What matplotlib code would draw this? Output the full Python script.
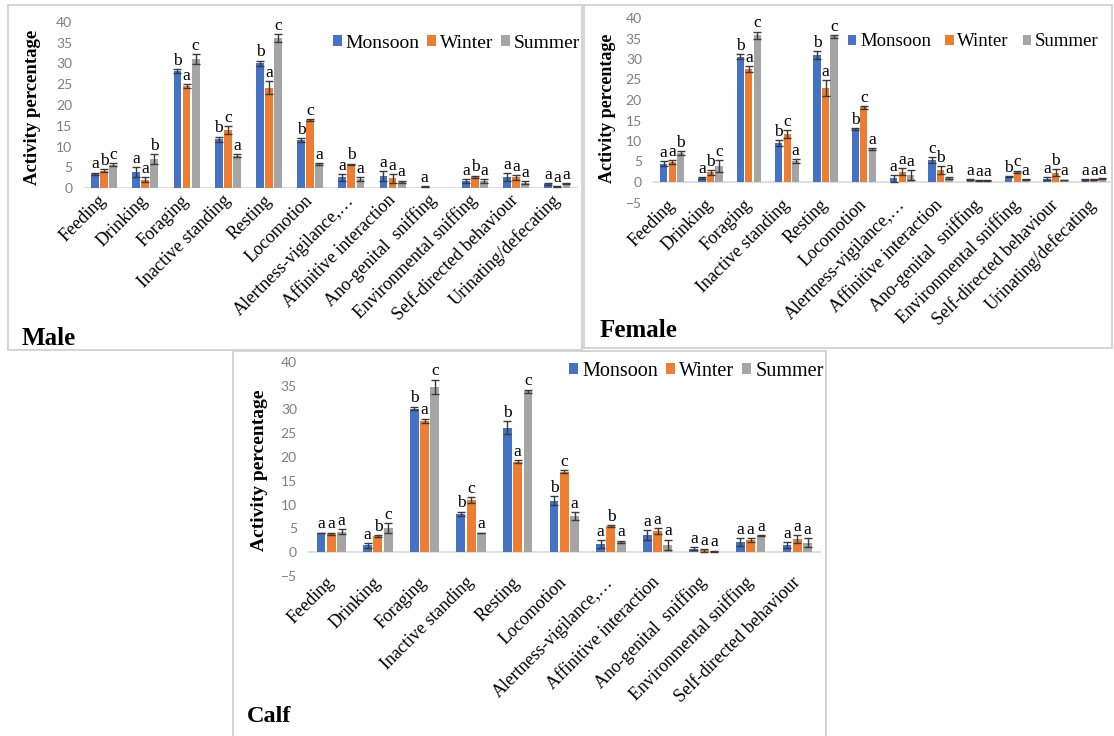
import numpy as np
import matplotlib
matplotlib.use("Agg")
import matplotlib.pyplot as plt
from matplotlib.patches import Rectangle, Patch

# ---------------------------------------------------------------- data
seasons = ["Monsoon", "Winter", "Summer"]
season_colors = ["#4472C4", "#ED7D31", "#A5A5A5"]

behaviours = ["Feeding", "Drinking", "Foraging", "Inactive standing", "Resting",
              "Locomotion", "Alertness-vigilance,\u2026", "Affinitive interaction",
              "Ano-genital  sniffing", "Environmental sniffing",
              "Self-directed behaviour", "Urinating/defecating"]
calf_behaviours = behaviours[:11]

# Male
male_monsoon = [3.4, 3.9, 28.2, 11.8, 30.0, 11.6, 2.6, 2.9, 0.3, 1.7, 2.6, 0.9]
male_winter = [4.2, 2.0, 24.6, 14.0, 24.2, 16.4, 5.7, 2.3, 0.0, 2.7, 2.6, 0.4]
male_summer = [5.6, 7.0, 31.0, 7.8, 36.2, 5.8, 2.1, 1.5, 0.0, 1.7, 1.3, 1.1]
male_monsoon_err = [0.3, 1.2, 0.5, 0.6, 0.7, 0.4, 0.8, 1.2, 0.1, 0.5, 0.9, 0.2]
male_winter_err = [0.4, 0.6, 0.4, 0.9, 1.5, 0.3, 0.2, 1.0, 0.0, 0.3, 0.6, 0.1]
male_summer_err = [0.4, 1.1, 1.2, 0.4, 0.9, 0.3, 0.5, 0.3, 0.0, 0.5, 0.4, 0.1]
male_monsoon_sig = ["a", "a", "b", "b", "b", "b", "a", "a", "a", "a", "a", "a"]
male_winter_sig = ["b", "a", "a", "c", "a", "c", "b", "a", "", "b", "a", "a"]
male_summer_sig = ["c", "b", "c", "a", "c", "a", "a", "a", "", "a", "a", "a"]

# Female
female_monsoon = [4.5, 1.0, 30.6, 9.6, 31.0, 13.0, 0.9, 5.4, 0.65, 1.3, 0.8, 0.7]
female_winter = [4.9, 2.4, 27.5, 11.7, 22.9, 18.2, 2.5, 2.9, 0.4, 2.5, 2.3, 0.65]
female_summer = [7.1, 3.9, 35.8, 5.1, 35.5, 8.0, 1.7, 1.0, 0.3, 0.65, 0.5, 0.9]
female_monsoon_err = [0.6, 0.2, 0.6, 0.7, 1.0, 0.2, 0.8, 0.7, 0.1, 0.1, 0.3, 0.1]
female_winter_err = [0.4, 0.6, 0.7, 0.9, 2.0, 0.4, 0.9, 1.0, 0.1, 0.3, 0.9, 0.1]
female_summer_err = [0.5, 1.5, 0.9, 0.5, 0.3, 0.2, 1.3, 0.2, 0.1, 0.1, 0.1, 0.1]
female_monsoon_sig = ["a", "a", "b", "b", "b", "b", "a", "c", "a", "b", "a", "a"]
female_winter_sig = ["a", "b", "a", "c", "a", "c", "a", "b", "a", "c", "b", "a"]
female_summer_sig = ["b", "c", "c", "a", "c", "a", "a", "a", "a", "a", "a", "a"]

# Calf
calf_monsoon = [4.0, 1.4, 30.2, 8.0, 26.2, 10.8, 1.7, 3.6, 0.7, 2.1, 1.5]
calf_winter = [3.8, 3.4, 27.6, 11.0, 19.0, 16.9, 5.5, 4.4, 0.35, 2.5, 2.7]
calf_summer = [4.3, 5.0, 34.8, 4.0, 33.8, 7.6, 2.2, 1.5, 0.2, 3.4, 2.0]
calf_monsoon_err = [0.1, 0.5, 0.4, 0.5, 1.4, 1.0, 0.8, 1.0, 0.3, 0.9, 0.6]
calf_winter_err = [0.3, 0.2, 0.5, 0.6, 0.3, 0.3, 0.2, 0.6, 0.3, 0.4, 0.8]
calf_summer_err = [0.5, 1.1, 1.5, 0.1, 0.4, 0.8, 0.2, 1.1, 0.1, 0.1, 1.0]
calf_monsoon_sig = ["a", "a", "b", "b", "b", "b", "a", "a", "a", "a", "a"]
calf_winter_sig = ["a", "b", "a", "c", "a", "c", "b", "a", "a", "a", "a"]
calf_summer_sig = ["a", "c", "c", "a", "c", "a", "a", "a", "a", "a", "a"]

# ---------------------------------------------------------------- style
W, H = 1114, 736
SERIF = "Liberation Serif"
SANS = "Lato"
TICK_GREY = "#7f7f7f"
ERR_COLOR = "#3a3a3a"

fig = plt.figure(figsize=(W / 100, H / 100), dpi=100)
fig.patch.set_facecolor("white")


def px_axes(x0, x1, ytop, ybot):
    """Axes placed by pixel edges (y measured from the top of the figure)."""
    return fig.add_axes([x0 / W, 1 - ybot / H, (x1 - x0) / W, (ybot - ytop) / H])


def px_box(x0, y0, x1, y1):
    fig.add_artist(Rectangle((x0 / W, 1 - y1 / H), (x1 - x0) / W, (y1 - y0) / H,
                             transform=fig.transFigure, fill=False,
                             edgecolor="#d4d4d4", linewidth=1.4))


def draw_panel(ax, cats, series, errors, letters, ymin, label_pad):
    n = len(cats)
    x = np.arange(n)
    width = 0.19
    offsets = [-0.22, 0.0, 0.22]
    for vals, errs, sigs, off, color in zip(series, errors, letters, offsets, season_colors):
        vals = np.asarray(vals, float)
        errs = np.asarray(errs, float)
        xs = x + off
        ax.bar(xs, vals, width=width, color=color, zorder=2)
        mask = errs > 0
        ax.errorbar(xs[mask], vals[mask], yerr=errs[mask], fmt="none",
                    ecolor=ERR_COLOR, elinewidth=1.0, capsize=2.6,
                    capthick=1.0, zorder=3)
        for xi, v, e, s in zip(xs, vals, errs, sigs):
            if s:
                ax.annotate(s, (xi, v + e), xytext=(0, 3), textcoords="offset points",
                            ha="center", va="baseline", fontsize=12.5,
                            family=SERIF, color="black", zorder=4)
    ax.set_xlim(-0.5, n - 0.5)
    ax.set_ylim(ymin, 40)
    ax.set_yticks(np.arange(ymin, 41, 5))
    ax.axhline(0, color="#d9d9d9", linewidth=1.2, zorder=1)
    for sp in ax.spines.values():
        sp.set_visible(False)
    ax.set_xticks(x)
    ax.set_xticklabels(cats, rotation=45, ha="right", va="center",
                       rotation_mode="anchor", fontsize=13, family=SERIF)
    ax.tick_params(axis="x", length=0, pad=label_pad)
    ax.tick_params(axis="y", length=0, pad=8, labelcolor=TICK_GREY, labelsize=10)
    for lab in ax.get_yticklabels():
        lab.set_family(SANS)
    ax.patch.set_alpha(0)


def add_legend(ax, x_left, y_mid, size, spacing):
    handles = [Patch(facecolor=c, edgecolor="none") for c in season_colors]
    ax.legend(handles, seasons, loc="center left",
              bbox_to_anchor=(x_left / W, 1 - y_mid / H),
              bbox_transform=fig.transFigure, ncol=3, frameon=False,
              prop={"family": SERIF, "size": size}, handlelength=0.45,
              handleheight=0.45, handletextpad=0.2, columnspacing=spacing,
              borderpad=0, borderaxespad=0)


# ---------------------------------------------------------------- panel frames
px_box(8, 5, 582, 350)
px_box(584, 5, 1112, 348)
px_box(233, 351, 826, 740)

# ---------------------------------------------------------------- Male
ax_m = px_axes(83.5, 578, 22, 188)
draw_panel(ax_m, behaviours,
           [male_monsoon, male_winter, male_summer],
           [male_monsoon_err, male_winter_err, male_summer_err],
           [male_monsoon_sig, male_winter_sig, male_summer_sig], 0, 7)
add_legend(ax_m, 333, 43, 14, 0.4)
fig.text(33 / W, 1 - 107 / H, "Activity percentage", rotation=90, ha="center",
         va="center", fontsize=13.5, fontweight="bold", family=SERIF)
fig.text(22 / W, 1 - 345 / H, "Male", fontsize=18, fontweight="bold",
         family=SERIF, va="baseline")

# ---------------------------------------------------------------- Female
ax_f = px_axes(653, 1113, 18, 202.5)
draw_panel(ax_f, behaviours,
           [female_monsoon, female_winter, female_summer],
           [female_monsoon_err, female_winter_err, female_summer_err],
           [female_monsoon_sig, female_winter_sig, female_summer_sig], -5, 0)
add_legend(ax_f, 848, 42, 13.5, 0.75)
fig.text(607 / W, 1 - 108 / H, "Activity percentage", rotation=90, ha="center",
         va="center", fontsize=13, fontweight="bold", family=SERIF)
fig.text(600 / W, 1 - 337 / H, "Female", fontsize=18, fontweight="bold",
         family=SERIF, va="baseline")

# ---------------------------------------------------------------- Calf
ax_c = px_axes(308, 820.6, 362, 575.75)
draw_panel(ax_c, calf_behaviours,
           [calf_monsoon, calf_winter, calf_summer],
           [calf_monsoon_err, calf_winter_err, calf_summer_err],
           [calf_monsoon_sig, calf_winter_sig, calf_summer_sig], -5, 3)
add_legend(ax_c, 569, 371, 14.5, 0.4)
fig.text(260 / W, 1 - 470 / H, "Activity percentage", rotation=90, ha="center",
         va="center", fontsize=14, fontweight="bold", family=SERIF)
fig.text(247 / W, 1 - 722 / H, "Calf", fontsize=17.5, fontweight="bold",
         family=SERIF, va="baseline")

fig.savefig("out.png", dpi=100, facecolor="white")
